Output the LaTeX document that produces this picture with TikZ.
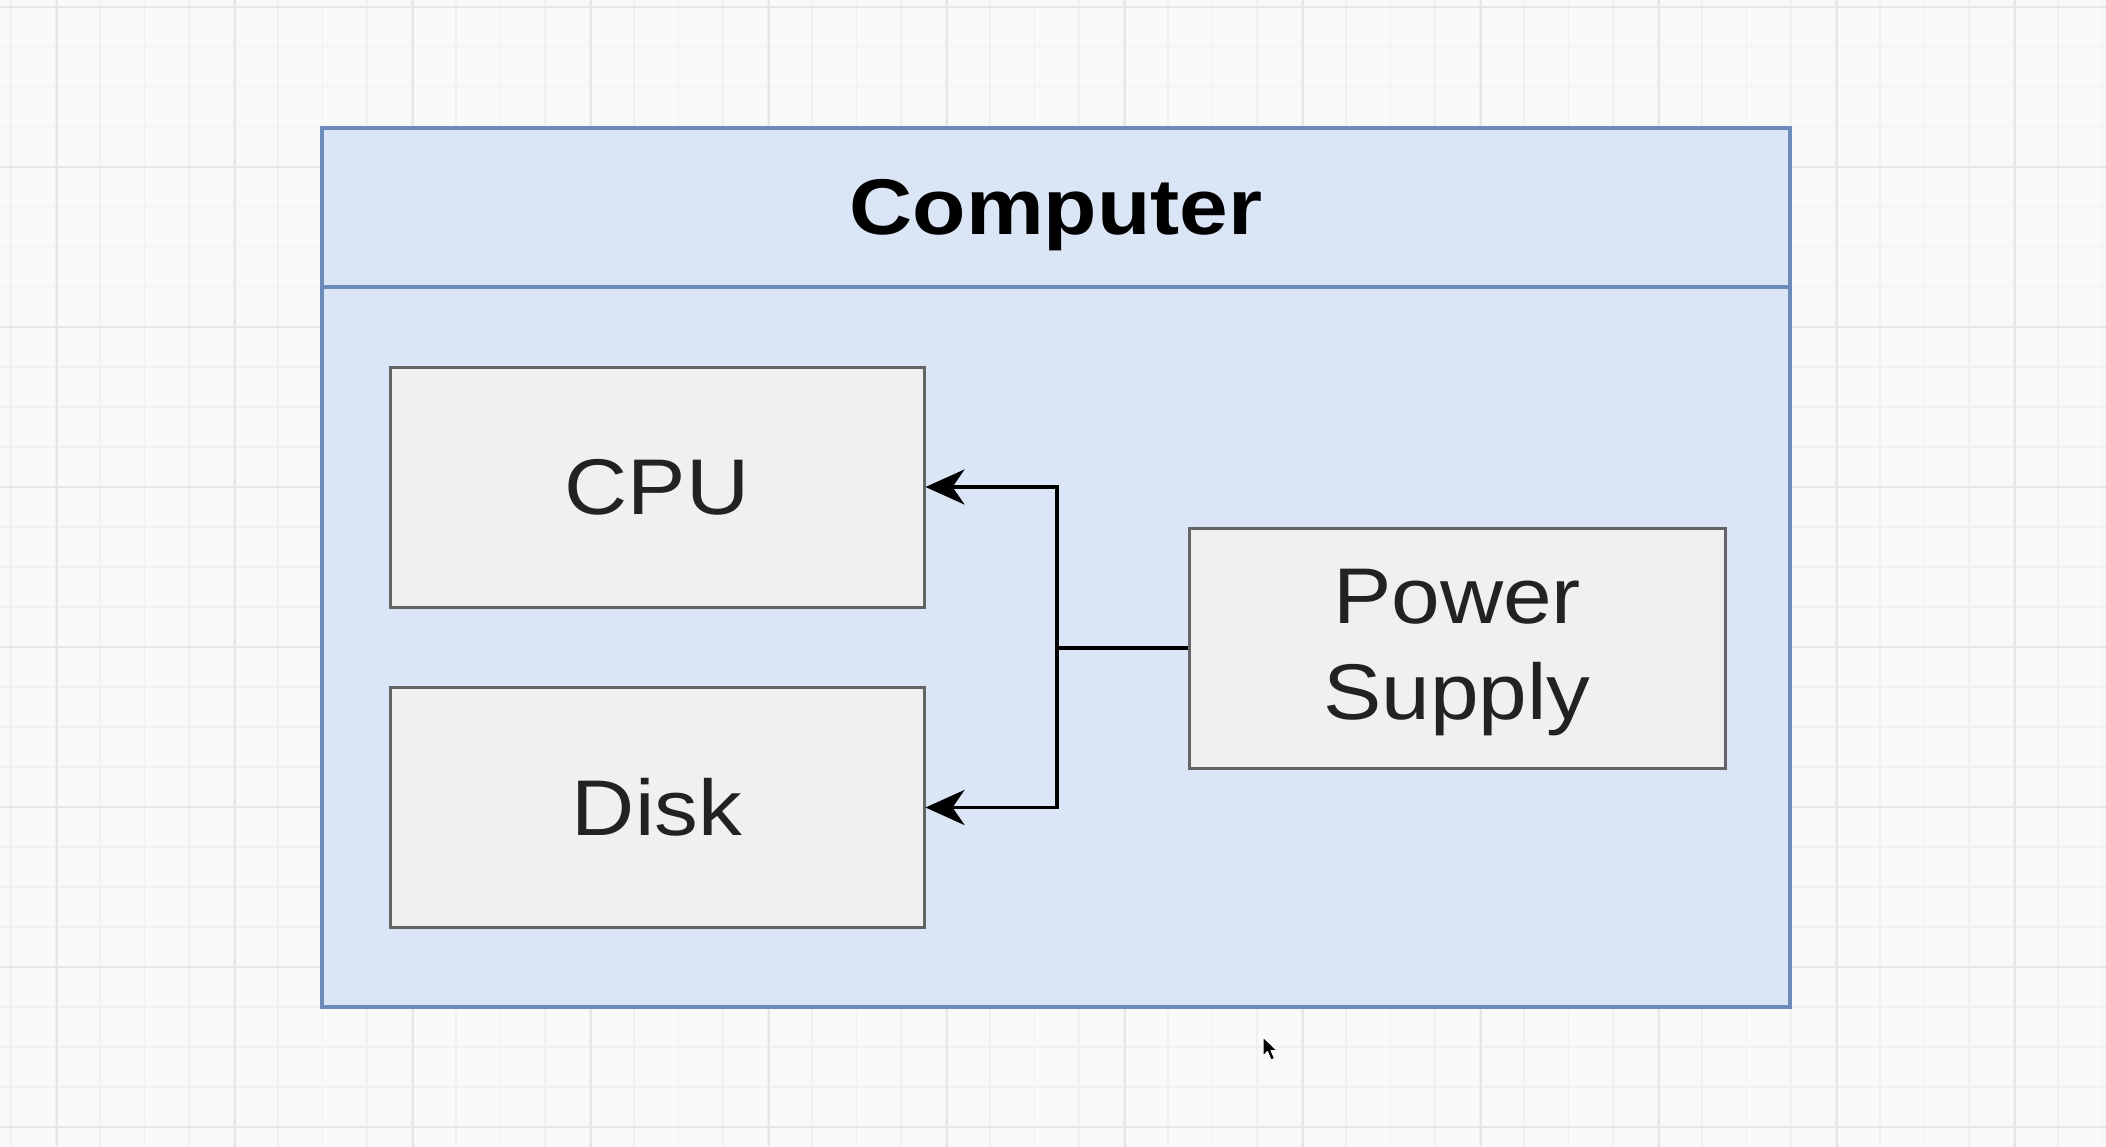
\documentclass[tikz,border=0pt]{standalone}
\usepackage{fontspec}
\setmainfont{Liberation Sans}
\usetikzlibrary{arrows.meta}
\definecolor{bgc}{RGB}{249,249,249}
\definecolor{gridminor}{RGB}{240,240,240}
\definecolor{gridmajor}{RGB}{230,230,230}
\definecolor{contfill}{RGB}{218,229,246}
\definecolor{contdraw}{RGB}{108,138,186}
\definecolor{boxfill}{RGB}{240,240,240}
\definecolor{boxdraw}{RGB}{100,100,100}
\definecolor{boxtext}{RGB}{34,34,34}
\tikzset{
  compbox/.style={draw=boxdraw, fill=boxfill, line width=3pt,
    minimum width=534pt, minimum height=240pt, inner sep=0pt,
    text=boxtext, font=\fontsize{79}{96}\selectfont, align=center},
  boxlabel/.style={inner sep=0pt, text=boxtext, font=\fontsize{79}{96}\selectfont, align=center},
  container/.style={draw=contdraw, fill=contfill, line width=3.5pt},
  wire/.style={draw=black, line width=3.5pt},
  wirearrow/.style={wire, -{Stealth[length=39pt, width=35pt, inset=12pt]}},
}
\newcommand{\hs}[1]{\scalebox{1.107}[1]{#1}}
\begin{document}
\begin{tikzpicture}[x=1pt,y=-1pt]
\useasboundingbox (0,0) rectangle (2106,1147);
\fill[bgc] (0,0) rectangle (2106,1147);
% grid
\foreach \i in {0,...,47} {\draw[gridminor, line width=1.6pt] ({11+44.5*\i},0) -- ({11+44.5*\i},1147);}
\foreach \j in {0,...,28} {\draw[gridminor, line width=1.6pt] (0,{6.7+40*\j}) -- (2106,{6.7+40*\j});}
\foreach \i in {0,...,11} {\draw[gridmajor, line width=2pt] ({56.5+178*\i},0) -- ({56.5+178*\i},1147);}
\foreach \j in {0,...,7} {\draw[gridmajor, line width=2pt] (0,{6.7+160*\j}) -- (2106,{6.7+160*\j});}
% container
\draw[container] (322,128) rectangle (1790,1007);
\draw[contdraw, line width=3.5pt] (322,287) -- (1790,287);
\node[font=\fontsize{79}{96}\selectfont\bfseries, text=black, inner sep=0pt, anchor=base] (title) at (1056,235) {\hs{Computer}};
% boxes
\node[compbox] (cpu) at (657,487) {\hs{CPU}};
\node[compbox] (disk) at (657,807.5) {\hs{Disk}};
\node[compbox, minimum width=536pt] (ps) at (1457,648) {};
\node[boxlabel] (pslabel) at ([yshift=-5pt]ps.center) {\hs{Power}\\\hs{Supply}};
% connectors
\coordinate (j) at (1057,648);
\draw[wire] (ps.west) -- (j);
\draw[wirearrow] (j) |- (cpu.east);
\draw[wirearrow] (j) |- (disk.east);
% mouse cursor
\filldraw[fill=black, draw=white, line width=1pt, line join=round] (1263,1037) -- (1263,1056) -- (1267.5,1051.5) -- (1271,1060) -- (1274.5,1058.5) -- (1271,1050.5) -- (1277,1050.5) -- cycle;
\end{tikzpicture}
\end{document}
